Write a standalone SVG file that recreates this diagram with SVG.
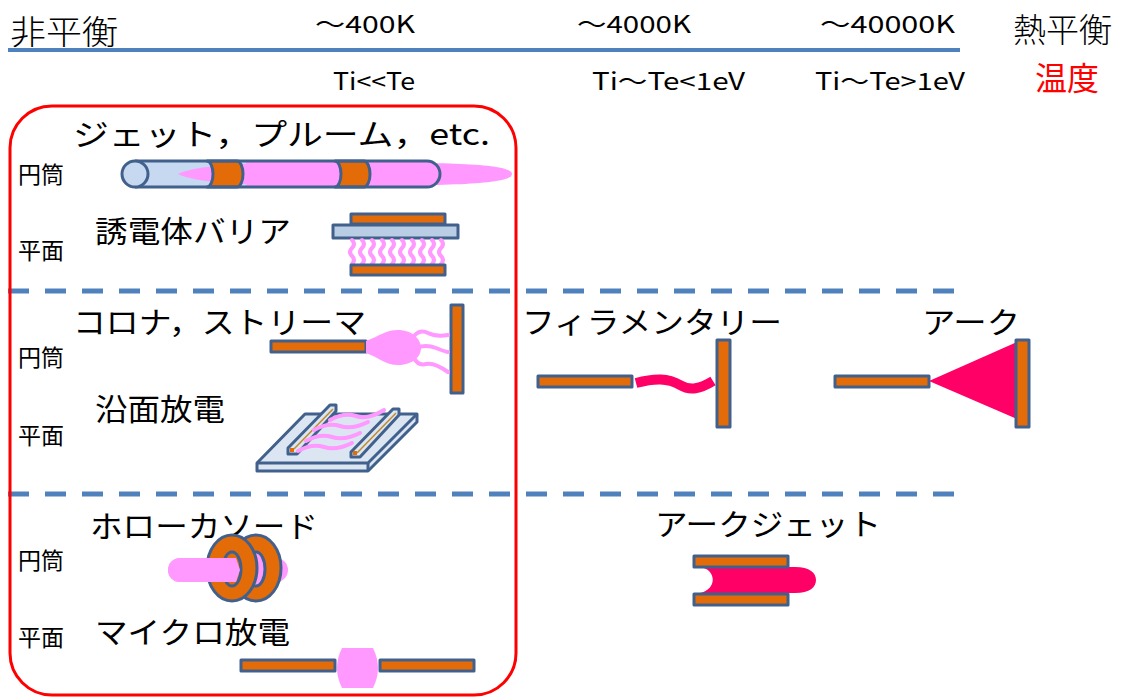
<svg xmlns="http://www.w3.org/2000/svg" width="1121" height="697" viewBox="0 0 1121 697">
  <style>
    .t { font-family: "Noto Sans CJK JP", "Noto Sans", sans-serif; fill: #000; }
    .hd { font-size: 24px; }
    .lb { font-size: 30px; }
    .sm { font-size: 23px; }
    .el { fill: #e36c09; stroke: #41618c; stroke-width: 3; stroke-linejoin: round; }
    .ln { stroke: #41618c; stroke-width: 3; stroke-linejoin: round; }
    .pk { fill: #ff99ff; }
    .fil { fill: none; stroke: #ff99ff; stroke-linecap: round; }
    .arc { fill: #ff0066; }
  </style>

  <!-- header: temperature scale -->
  <g id="header">
    <line x1="8" y1="50" x2="960" y2="50" stroke="#4f81bd" stroke-width="4"/>
    <text class="t" x="10" y="44" font-size="33" font-weight="300" textLength="108" lengthAdjust="spacingAndGlyphs">非平衡</text>
    <text class="t" x="1013" y="42" font-size="33" font-weight="300" textLength="99" lengthAdjust="spacingAndGlyphs">熱平衡</text>
    <text class="t" x="1035" y="90" font-size="32" style="fill:#ff0000">温度</text>
    <text class="t hd" x="315" y="33" textLength="100" lengthAdjust="spacingAndGlyphs">～400K</text>
    <text class="t hd" x="577" y="33" textLength="114" lengthAdjust="spacingAndGlyphs">～4000K</text>
    <text class="t hd" x="820" y="33" textLength="135" lengthAdjust="spacingAndGlyphs">～40000K</text>
    <text class="t hd" x="333" y="90" textLength="82" lengthAdjust="spacingAndGlyphs">Ti&lt;&lt;Te</text>
    <text class="t hd" x="592" y="90" textLength="153" lengthAdjust="spacingAndGlyphs">Ti～Te&lt;1eV</text>
    <text class="t hd" x="815" y="90" textLength="150" lengthAdjust="spacingAndGlyphs">Ti～Te&gt;1eV</text>
  </g>

  <!-- section separators and non-equilibrium frame -->
  <g id="frame">
    <line x1="8" y1="291" x2="960" y2="291" stroke="#4f81bd" stroke-width="5" stroke-dasharray="21 16"/>
    <line x1="8" y1="494" x2="960" y2="494" stroke="#4f81bd" stroke-width="5" stroke-dasharray="21 16"/>
    <rect x="10" y="106" width="506" height="589" rx="42" ry="42" fill="none" stroke="#ff0000" stroke-width="3"/>
  </g>

  <!-- side labels -->
  <g id="axis-labels">
    <text class="t sm" x="18" y="183">円筒</text>
    <text class="t sm" x="18" y="259">平面</text>
    <text class="t sm" x="18" y="366">円筒</text>
    <text class="t sm" x="18" y="444">平面</text>
    <text class="t sm" x="18" y="569">円筒</text>
    <text class="t sm" x="18" y="646">平面</text>
  </g>

  <!-- jet / plume -->
  <g id="jet">
    <text class="t lb" x="73" y="145" textLength="417" lengthAdjust="spacingAndGlyphs">ジェット，プルーム，etc.</text>
    <path d="M135,161 H427 A13,13 0 0 1 427,187 H135 Z" fill="#c6d9f1"/>
    <path class="pk" d="M178,174 C200,164 250,162.5 345,162.5 C440,162.5 512,163 512,174 C512,185 440,185.5 345,185.5 C250,185.5 200,184 178,174 Z"/>
    <path class="pk" d="M243,161 H427 A13,13 0 0 1 427,187 H243 A6,13 0 0 0 243,161 Z"/>
    <path class="el" d="M207,161 H237 A6,13 0 0 1 237,187 H207 A6,13 0 0 0 207,161 Z"/>
    <path class="el" d="M335,161 H364 A6,13 0 0 1 364,187 H335 A6,13 0 0 0 335,161 Z"/>
    <path class="ln" fill="none" d="M135,161 H427 A13,13 0 0 1 427,187 H135"/>
    <ellipse class="ln" cx="135" cy="174" rx="13" ry="13" fill="#c6d9f1"/>
  </g>

  <!-- dielectric barrier -->
  <g id="dbd">
    <text class="t lb" x="95" y="242" textLength="196" lengthAdjust="spacingAndGlyphs">誘電体バリア</text>
    <rect class="el" x="351" y="214" width="94" height="10"/>
    <rect class="ln" x="333" y="225" width="125" height="13" fill="#b9cde5"/>
    <g class="fil" stroke-width="4">
      <path d="M352,240 q4,4 0,8 t0,8 t0,8"/>
      <path d="M362,240 q4,4 0,8 t0,8 t0,8"/>
      <path d="M372,240 q4,4 0,8 t0,8 t0,8"/>
      <path d="M382,240 q4,4 0,8 t0,8 t0,8"/>
      <path d="M392,240 q4,4 0,8 t0,8 t0,8"/>
      <path d="M402,240 q4,4 0,8 t0,8 t0,8"/>
      <path d="M412,240 q4,4 0,8 t0,8 t0,8"/>
      <path d="M422,240 q4,4 0,8 t0,8 t0,8"/>
      <path d="M432,240 q4,4 0,8 t0,8 t0,8"/>
      <path d="M441,240 q4,4 0,8 t0,8 t0,8"/>
    </g>
    <rect class="el" x="351" y="265" width="94" height="10"/>
  </g>

  <!-- corona / streamer -->
  <g id="corona">
    <text class="t lb" x="73" y="333" textLength="293" lengthAdjust="spacingAndGlyphs">コロナ，ストリーマ</text>
    <rect class="el" x="271" y="341" width="95" height="11"/>
    <rect class="el" x="451" y="305" width="12" height="88"/>
    <g class="fil" stroke-width="4">
      <path d="M414,336 q6,-7 14,-3 t20,2"/>
      <path d="M416,348 q10,-4 20,0 t12,4"/>
      <path d="M414,358 q4,8 12,6 t22,8"/>
    </g>
    <path class="pk" d="M366,341 C380,336 385,330 398,330 C412,330 421,339 421,348 C421,358 411,365 398,365 C385,365 378,357 366,353 Z"/>
  </g>

  <!-- surface discharge -->
  <g id="surface">
    <text class="t lb" x="95" y="420" textLength="130" lengthAdjust="spacingAndGlyphs">沿面放電</text>
    <polygon class="ln" points="257,463 305,414 417,414 417,422 368,471 257,471" fill="#dce6f2"/>
    <polyline class="ln" points="257,463 368,463 417,414" fill="none"/>
    <line class="ln" x1="368" y1="463" x2="368" y2="471"/>
    <polygon class="ln" points="288,448 330,405 336,405 336,411 297,454 288,454" fill="#dce6f2"/>
    <line x1="294" y1="449" x2="333" y2="409" stroke="#c28a2a" stroke-width="1.5"/>
    <rect x="290" y="448" width="4" height="4" fill="#e36c09"/>
    <g class="fil" stroke-width="4">
      <path d="M298,451 q14,-8 26,-4 t28,-4"/>
      <path d="M306,441 q14,-8 26,-4 t28,-4"/>
      <path d="M314,430 q14,-8 26,-4 t28,-4"/>
      <path d="M330,420 q14,-8 26,-4 t28,-6"/>
    </g>
    <polygon class="ln" points="351,452 393,409 399,409 399,415 360,457 351,457" fill="#dce6f2"/>
    <line x1="357" y1="453" x2="396" y2="413" stroke="#c28a2a" stroke-width="1.5"/>
    <rect x="353" y="451" width="4" height="4" fill="#e36c09"/>
  </g>

  <!-- filamentary -->
  <g id="filamentary">
    <text class="t lb" x="522" y="333" textLength="260" lengthAdjust="spacingAndGlyphs">フィラメンタリー</text>
    <rect class="el" x="538" y="376" width="94" height="11"/>
    <path d="M636,383 C655,378 668,378 680,385 C690,391 700,389 713,381" fill="none" stroke="#ff0066" stroke-width="10"/>
    <rect class="el" x="717" y="340" width="13" height="87"/>
  </g>

  <!-- arc -->
  <g id="arc">
    <text class="t lb" x="922" y="333" textLength="98" lengthAdjust="spacingAndGlyphs">アーク</text>
    <rect class="el" x="835" y="376" width="94" height="11"/>
    <polygon class="arc" points="929,381 1017,342 1017,419"/>
    <rect class="el" x="1016" y="340" width="13" height="87"/>
  </g>

  <!-- hollow cathode -->
  <g id="hollow-cathode">
    <text class="t lb" x="90" y="537" textLength="228" lengthAdjust="spacingAndGlyphs">ホローカソード</text>
    <rect class="pk" x="168" y="558" width="120" height="24" rx="12"/>
    <ellipse class="el" cx="256" cy="568" rx="25" ry="33"/>
    <ellipse cx="256" cy="569" rx="9" ry="17" fill="#ff99ff" stroke="#41618c" stroke-width="3"/>
    <ellipse class="el" cx="232" cy="568" rx="25" ry="33"/>
    <ellipse cx="232" cy="569" rx="9" ry="17" fill="#e36c09" stroke="#41618c" stroke-width="3"/>
    <path class="pk" d="M180,558 H236 L240,570 L236,582 H180 A12,12 0 0 1 180,558 Z"/>
  </g>

  <!-- micro discharge -->
  <g id="micro">
    <text class="t lb" x="95" y="643" textLength="195" lengthAdjust="spacingAndGlyphs">マイクロ放電</text>
    <rect class="el" x="241" y="660" width="94" height="11"/>
    <rect class="el" x="380" y="660" width="94" height="11"/>
    <path class="pk" d="M342,648 H373 Q383,668 373,688 H342 Q332,668 342,648 Z"/>
  </g>

  <!-- arc jet -->
  <g id="arc-jet">
    <text class="t lb" x="655" y="535" textLength="226" lengthAdjust="spacingAndGlyphs">アークジェット</text>
    <path class="arc" d="M700,567 H795 C810,567 816,573 816,580 C816,587 810,593 795,593 H700 C716,590 718,570 700,567 Z"/>
    <rect class="el" x="694" y="556" width="94" height="11"/>
    <rect class="el" x="694" y="594" width="94" height="11"/>
  </g>
</svg>
